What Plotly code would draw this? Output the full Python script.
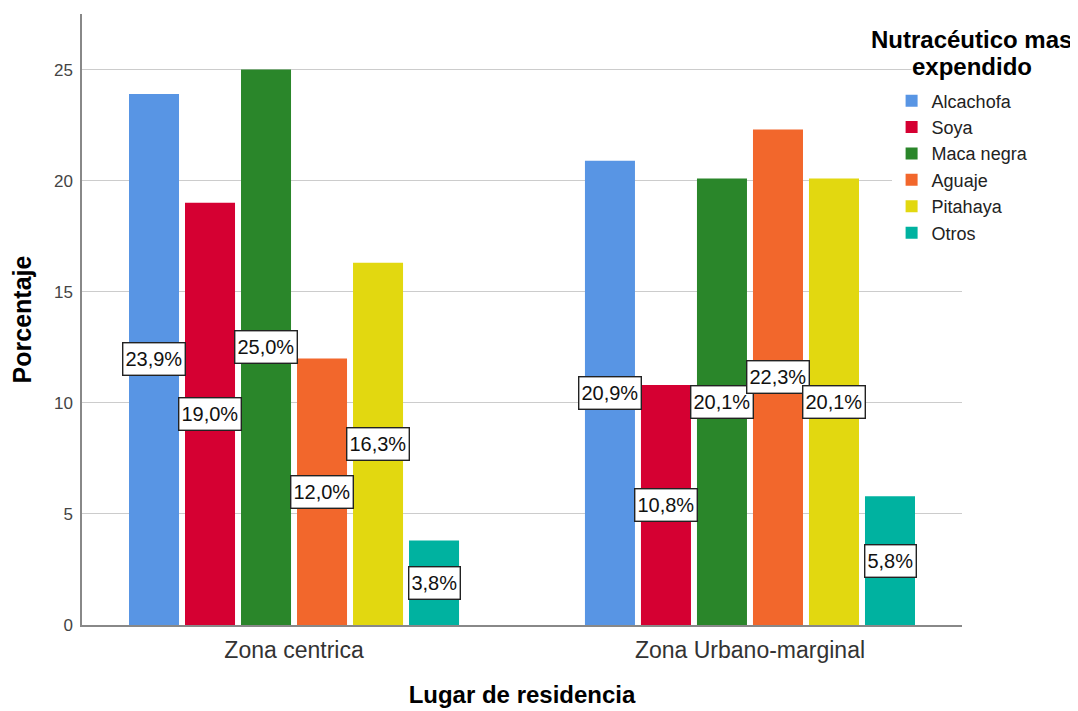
import plotly.graph_objects as go

categories = ["Zona centrica", "Zona Urbano-marginal"]
series_names = ["Alcachofa", "Soya", "Maca negra", "Aguaje", "Pitahaya", "Otros"]
alcachofa = [23.9, 20.9]
soya = [19.0, 10.8]
maca_negra = [25.0, 20.1]
aguaje = [12.0, 22.3]
pitahaya = [16.3, 20.1]
otros = [3.8, 5.8]
y_ticks = [0, 5, 10, 15, 20, 25]
legend_title_lines = ["Nutracéutico mas", "expendido"]

series_values = [alcachofa, soya, maca_negra, aguaje, pitahaya, otros]
colors = ["#5895E4", "#D50032", "#2A862A", "#F2672C", "#E2D810", "#00B2A0"]

BARGAP = 0.263
FONT = "Liberation Sans, Arial, sans-serif"
xpos = list(range(len(categories)))

fig = go.Figure()
for name, vals, col in zip(series_names, series_values, colors):
    fig.add_trace(go.Bar(x=xpos, y=vals, name=name, marker=dict(color=col, line=dict(width=0))))

n = len(series_names)
slot = (1 - BARGAP) / n
annotations = []
for j, vals in enumerate(series_values):
    for i, v in enumerate(vals):
        xc = xpos[i] - (1 - BARGAP) / 2 + (j + 0.5) * slot
        annotations.append(dict(
            x=xc, y=v / 2, xref="x", yref="y",
            text=f"{v:.1f}%".replace(".", ","),
            showarrow=False, font=dict(family=FONT, size=20, color="#111"),
            bgcolor="white", bordercolor="#222", borderwidth=1.4, borderpad=2, height=27,
        ))

for k, (line, ypos) in enumerate(zip(legend_title_lines, [0.958, 0.914])):
    annotations.append(dict(
        x=1.011, y=ypos, xref="paper", yref="paper", xanchor="center", yanchor="middle",
        text=f"<b>{line}</b>", showarrow=False,
        font=dict(family=FONT, size=24, color="#000"),
        bgcolor="white" if k == 1 else "rgba(0,0,0,0)", borderpad=0,
    ))

fig.update_layout(
    width=1078, height=711,
    margin=dict(l=74, r=124, t=6, b=94),
    paper_bgcolor="white", plot_bgcolor="white",
    barmode="group", bargap=BARGAP, bargroupgap=0.107,
    font=dict(family=FONT, color="#333"),
    annotations=annotations,
    legend=dict(x=0.92, y=0.888, xanchor="left", yanchor="top",
                bgcolor="white", font=dict(family=FONT, size=18, color="#222"),
                tracegroupgap=0, itemclick=False),
    xaxis=dict(range=[-0.465, 1.465], tickvals=xpos, ticktext=categories,
               showgrid=False, showline=True, linecolor="#888", linewidth=1.5,
               ticks="", ticklabelstandoff=4, tickfont=dict(family=FONT, size=23, color="#333"),
               title=dict(text="<b>Lugar de residencia</b>", font=dict(family=FONT, size=24, color="#000"), standoff=24),
               zeroline=False),
    yaxis=dict(range=[0, 27.5], tickvals=y_ticks, showgrid=True, gridcolor="#CCCCCC", gridwidth=1.3,
               showline=True, linecolor="#888", linewidth=1.5, ticks="", ticklabelstandoff=4,
               tickfont=dict(family=FONT, size=17, color="#444"),
               title=dict(text="<b>Porcentaje</b>", font=dict(family=FONT, size=25, color="#000"), standoff=18),
               zeroline=False),
)

fig.write_html("out.html")
